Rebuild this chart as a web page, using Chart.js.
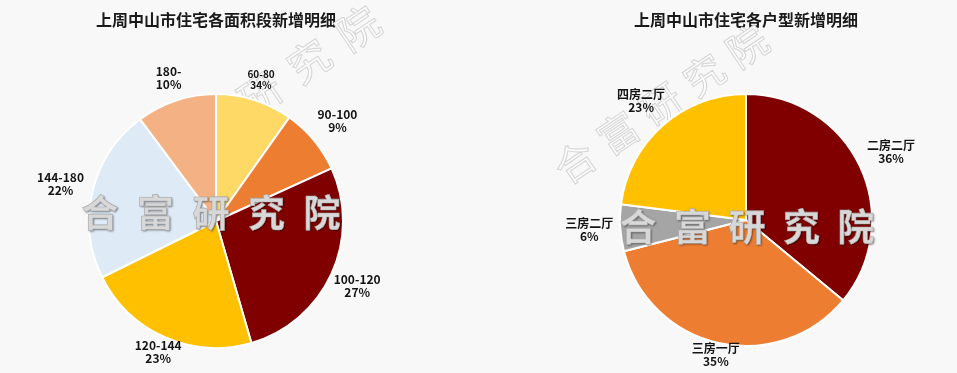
<!DOCTYPE html>
<html>
<head>
<meta charset="utf-8">
<script src="https://cdn.jsdelivr.net/npm/chart.js@4.4.0/dist/chart.umd.min.js"></script>
<style>
  html, body { margin: 0; padding: 0; background: #f8f8f8; }
  #wrap { position: relative; width: 957px; height: 373px; overflow: hidden; }
  canvas { position: absolute; top: 0; }
</style>
</head>
<body>
<div id="wrap">
  <canvas id="areaChart" width="478" height="373" style="left:0"></canvas>
  <canvas id="typeChart" width="479" height="373" style="left:478px"></canvas>
</div>
<script>
//面积段数据
const areaLabels = ['60-80', '90-100', '100-120', '120-144', '144-180', '180-'];
const areaValues = [9.8, 8.4, 27.3, 22.2, 22.1, 10.2];
const areaPct = ['34%', '9%', '27%', '23%', '22%', '10%'];

//户型数据
const typeLabels = ['二房二厅', '三房一厅', '三房二厅', '四房二厅'];
const typeValues = [36, 35, 6, 23];
const typePct = typeValues.map(v => v + '%');

const FONT = '"Noto Sans CJK SC", "Noto Sans", sans-serif';
const MARK = '合富研究院';

//扇区标签：放在扇区外侧，上半部分整块移到圆外
const sliceLabels = {
  id: 'sliceLabels',
  afterDatasetsDraw(chart, args, opts) {
    const ctx = chart.ctx;
    const meta = chart.getDatasetMeta(0);
    ctx.save();
    meta.data.forEach((arc, i) => {
      const p = arc.getProps(['x', 'y', 'startAngle', 'endAngle', 'outerRadius'], true);
      const mid = (p.startAngle + p.endAngle) / 2;
      const size = opts.sizes ? opts.sizes[i] : 12;
      const lh = size + 1;
      ctx.font = `bold ${size}px ${FONT}`;
      const lines = [chart.data.labels[i], opts.pct[i]];
      const w = Math.max(...lines.map(t => ctx.measureText(t).width));
      const c = Math.cos(mid), s = Math.sin(mid);
      const d = p.outerRadius + opts.gap + (w / 2) * Math.abs(c) + (s < 0 ? lh * -s : 0);
      const x = p.x + c * d, y = p.y + s * d;
      ctx.fillStyle = '#141414';
      ctx.textAlign = 'center';
      ctx.textBaseline = 'middle';
      ctx.fillText(lines[0], x, y - lh / 2);
      ctx.fillText(lines[1], x, y + lh / 2);
    });
    ctx.restore();
  }
};

//水印
const watermark = {
  id: 'watermark',
  beforeDatasetsDraw(chart, args, opts) {
    const ctx = chart.ctx;
    const d = opts.diag;
    ctx.save();
    ctx.font = `${d.size}px ${FONT}`;
    ctx.textAlign = 'center';
    ctx.textBaseline = 'middle';
    ctx.lineWidth = 1;
    ctx.strokeStyle = '#d4d4d4';
    ctx.fillStyle = '#fbfbfb';
    [...MARK].forEach((ch, i) => {
      ctx.save();
      ctx.translate(d.x + d.dx * i, d.y + d.dy * i);
      ctx.rotate(d.angle * Math.PI / 180);
      ctx.fillText(ch, 0, 0);
      ctx.strokeText(ch, 0, 0);
      ctx.restore();
    });
    ctx.restore();
  },
  afterDatasetsDraw(chart, args, opts) {
    const ctx = chart.ctx;
    const f = opts.flat;
    ctx.save();
    ctx.font = `bold ${f.size}px ${FONT}`;
    ctx.textAlign = 'center';
    ctx.textBaseline = 'middle';
    [...MARK].forEach((ch, i) => {
      const x = f.x + f.dx * i;
      ctx.shadowColor = 'rgba(0,0,0,0.5)';
      ctx.shadowOffsetX = 1;
      ctx.shadowOffsetY = 1;
      ctx.shadowBlur = 2;
      ctx.fillStyle = '#d8d8d8';
      ctx.fillText(ch, x, f.y);
      ctx.shadowColor = 'transparent';
      ctx.lineWidth = 0.6;
      ctx.strokeStyle = '#aaaaaa';
      ctx.strokeText(ch, x, f.y);
    });
    ctx.restore();
  }
};

function makePie(el, title, labels, values, colors, padding, labelOpts, markOpts, plotBottom) {
  return new Chart(el, {
    type: 'pie',
    data: {
      labels: labels,
      datasets: [{
        data: values,
        backgroundColor: colors,
        borderColor: '#ffffff',
        borderWidth: 2
      }]
    },
    options: {
      responsive: false,
      animation: false,
      layout: { padding: padding },
      plugins: {
        legend: { display: false },
        tooltip: { enabled: false },
        title: {
          display: true,
          text: title,
          color: '#1a1a1a',
          font: { family: FONT, size: 16, weight: 'bold', lineHeight: 1.2 },
          padding: { top: 10, bottom: plotBottom }
        },
        sliceLabels: labelOpts,
        watermark: markOpts
      }
    },
    plugins: [watermark, sliceLabels]
  });
}

makePie(
  document.getElementById('areaChart'),
  '上周中山市住宅各面积段新增明细',
  areaLabels, areaValues,
  ['#FFD966', '#ED7D31', '#800000', '#FFC000', '#DEEBF7', '#F4B183'],
  { left: 40, right: 86, top: 0, bottom: 24 },
  { pct: areaPct, sizes: [10, 12, 12, 12, 12, 12], gap: 7 },
  {
    diag: { x: 162, y: 160, dx: 49, dy: -33, angle: -34, size: 42 },
    flat: { x: 100, y: 213, dx: 55.5, size: 37 }
  },
  63.8
);

makePie(
  document.getElementById('typeChart'),
  '上周中山市住宅各户型新增明细',
  typeLabels, typeValues,
  ['#800000', '#ED7D31', '#A5A5A5', '#FFC000'],
  { left: 80, right: 23, top: 0, bottom: 26 },
  { pct: typePct, gap: 7 },
  {
    diag: { x: 97, y: 162, dx: 43, dy: -29, angle: -34, size: 40 },
    flat: { x: 160, y: 227, dx: 54.5, size: 37 }
  },
  63.8
);
</script>
</body>
</html>
